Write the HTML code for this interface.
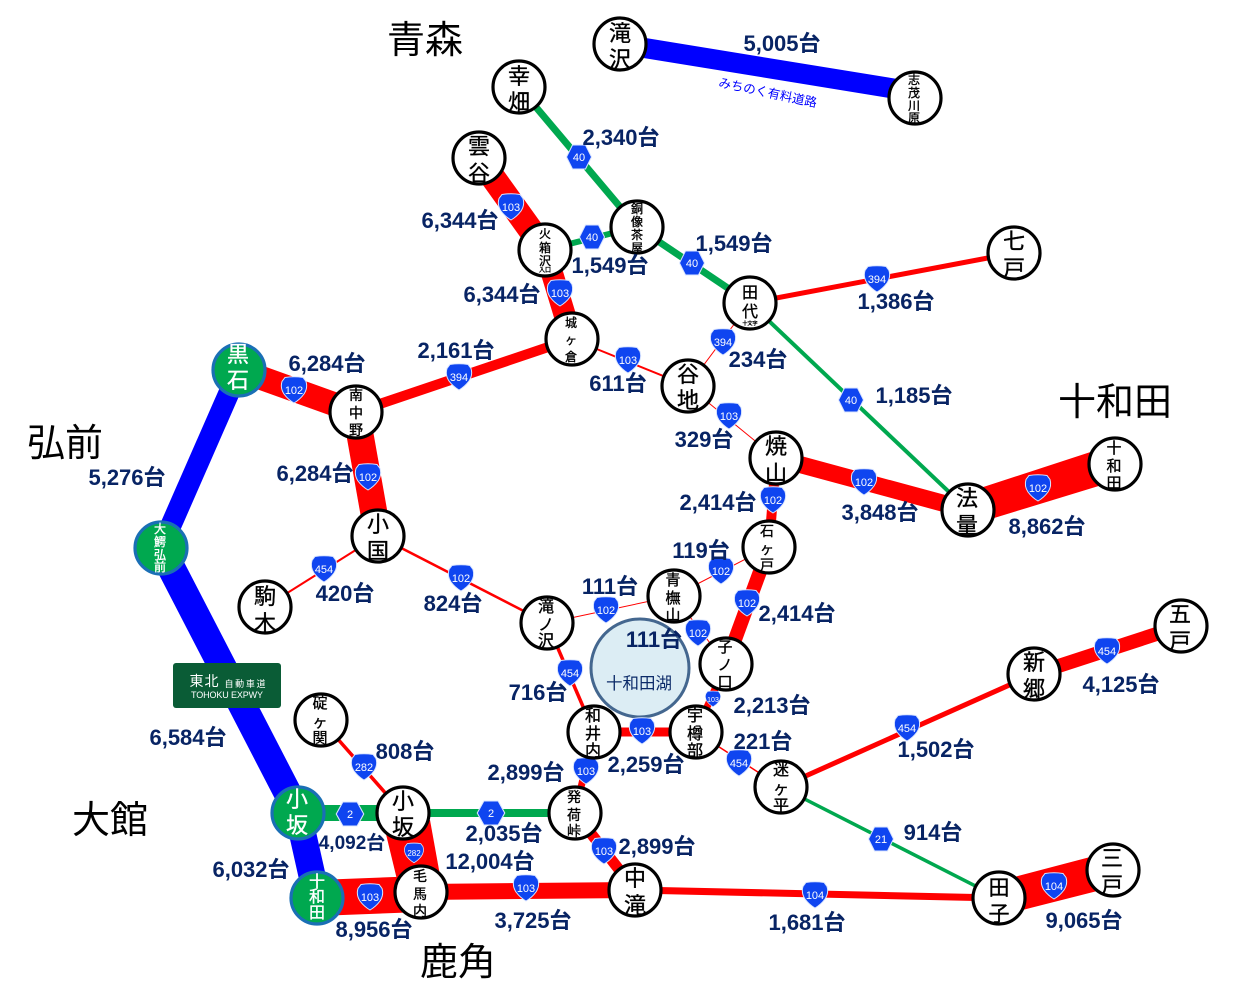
<!DOCTYPE html>
<html><head><meta charset="utf-8"><style>
html,body{margin:0;padding:0;background:#fff}
svg{display:block}
text{font-family:"Liberation Sans","Noto Sans CJK JP",sans-serif;text-anchor:middle}
.l{font-size:22px;font-weight:bold;fill:#082464}
.b{font-size:38px;fill:#000}
.n{fill:#fff;stroke:#000;stroke-width:3.2}
.g{fill:#00a84f;stroke:#1a6fb5;stroke-width:3.2}
.t2{font-size:22px;fill:#000}
.t3{font-size:16px;fill:#000}
.t4{font-size:12px;fill:#000}
.s{font-size:11px;fill:#fff;font-weight:500}
.r{stroke:#f00;fill:none}
.e{stroke:#00a84f;fill:none}
.u{stroke:#00f;fill:none}
.nodes text{stroke:#000;stroke-width:.35}
.nodes text[fill="#fff"]{stroke:#fff}
</style></head><body>
<svg width="1250" height="990" viewBox="0 0 1250 990" xmlns="http://www.w3.org/2000/svg">
<defs>
<path id="sh" d="M-9-12.5Q0-14 9-12.5L12-8.5Q14-2 10 4Q6 9.5 0 13Q-6 9.5-10 4Q-14-2-12-8.5Z" fill="#0f45f0" stroke="#dbe6ff" stroke-width="1"/>
<path id="hx" d="M-6.5-12H6.5L12.5 0L6.5 12H-6.5L-12.5 0Z" fill="#0f45f0" stroke="#dbe6ff" stroke-width="1"/>
</defs>
<!-- blue -->
<line class="u" x1="620" y1="44" x2="915" y2="92" stroke-width="20"/>
<line class="u" x1="239" y1="370" x2="161" y2="548" stroke-width="21"/>
<line class="u" x1="161" y1="548" x2="298" y2="813" stroke-width="28"/>
<line class="u" x1="298" y1="813" x2="317" y2="898" stroke-width="27"/>
<!-- red thick -->
<line class="r" x1="479" y1="158" x2="545" y2="250" stroke-width="25"/>
<line class="r" x1="545" y1="250" x2="572" y2="339" stroke-width="22"/>
<line class="r" x1="239" y1="370" x2="356" y2="412" stroke-width="24"/>
<line class="r" x1="356" y1="412" x2="378" y2="536" stroke-width="27"/>
<line class="r" x1="356" y1="412" x2="572" y2="339" stroke-width="10"/>
<line class="r" x1="572" y1="339" x2="688" y2="386" stroke-width="2"/>
<line class="r" x1="688" y1="386" x2="750" y2="303" stroke-width="1"/>
<line class="r" x1="688" y1="386" x2="776" y2="458" stroke-width="1"/>
<line class="r" x1="776" y1="458" x2="968" y2="510" stroke-width="17"/>
<polygon points="968,492 1115,444 1115,481 968,526" fill="#f00"/>
<line class="r" x1="776" y1="458" x2="769" y2="547" stroke-width="10"/>
<line class="r" x1="769" y1="547" x2="726" y2="664" stroke-width="14"/>
<line class="r" x1="769" y1="547" x2="674" y2="596" stroke-width="1"/>
<line class="r" x1="674" y1="596" x2="547" y2="623" stroke-width="1"/>
<line class="r" x1="674" y1="596" x2="726" y2="664" stroke-width="1"/>
<line class="r" x1="378" y1="536" x2="265" y2="607" stroke-width="2"/>
<line class="r" x1="378" y1="536" x2="547" y2="623" stroke-width="2.5"/>
<line class="r" x1="547" y1="623" x2="594" y2="732" stroke-width="3.5"/>
<line class="r" x1="594" y1="732" x2="696" y2="732" stroke-width="9"/>
<line class="r" x1="726" y1="664" x2="696" y2="732" stroke-width="7"/>
<line class="r" x1="696" y1="732" x2="781" y2="787" stroke-width="1.5"/>
<line class="r" x1="781" y1="787" x2="1034" y2="674" stroke-width="5"/>
<line class="r" x1="1034" y1="674" x2="1181" y2="626" stroke-width="14"/>
<line class="r" x1="750" y1="303" x2="1014" y2="253" stroke-width="5"/>
<line class="r" x1="321" y1="720" x2="403" y2="813" stroke-width="3.5"/>
<polygon points="385,830 430,820 443,892 400,892" fill="#f00"/>
<polygon points="317,880 421,876 421,912 317,916" fill="#f00"/>
<line class="r" x1="421" y1="892" x2="635" y2="890" stroke-width="16"/>
<line class="r" x1="635" y1="890" x2="999" y2="898" stroke-width="7"/>
<polygon points="999,881 1113,851 1113,887 999,916" fill="#f00"/>
<line class="r" x1="594" y1="732" x2="575" y2="813" stroke-width="7"/>
<line class="r" x1="575" y1="813" x2="635" y2="890" stroke-width="11"/>
<!-- green -->
<line class="e" x1="519" y1="87" x2="637" y2="227" stroke-width="7"/>
<line class="e" x1="637" y1="227" x2="750" y2="303" stroke-width="7"/>
<line class="e" x1="750" y1="303" x2="968" y2="510" stroke-width="4"/>
<line class="e" x1="545" y1="250" x2="637" y2="227" stroke-width="6"/>
<line class="e" x1="298" y1="813" x2="403" y2="813" stroke-width="16"/>
<line class="e" x1="403" y1="813" x2="575" y2="813" stroke-width="8"/>
<line class="e" x1="781" y1="787" x2="999" y2="898" stroke-width="3.5"/>
<!-- lake -->
<circle cx="640" cy="668" r="49" fill="#dcedf4" stroke="#44678f" stroke-width="3"/>
<text x="639" y="689" font-size="16.5" fill="#0b2a68">十和田湖</text>
<!-- shields -->
<g>
<use href="#hx" x="579" y="157"/><text class="s" x="579" y="161">40</text>
<use href="#sh" x="511" y="207"/><text class="s" x="511" y="211">103</text>
<use href="#hx" x="592" y="237"/><text class="s" x="592" y="241">40</text>
<use href="#hx" x="692" y="263"/><text class="s" x="692" y="267">40</text>
<use href="#sh" x="877" y="279"/><text class="s" x="877" y="283">394</text>
<use href="#sh" x="560" y="293"/><text class="s" x="560" y="297">103</text>
<use href="#sh" x="723" y="342"/><text class="s" x="723" y="346">394</text>
<use href="#sh" x="628" y="360"/><text class="s" x="628" y="364">103</text>
<use href="#sh" x="459" y="377"/><text class="s" x="459" y="381">394</text>
<use href="#sh" x="294" y="390"/><text class="s" x="294" y="394">102</text>
<use href="#hx" x="851" y="400"/><text class="s" x="851" y="404">40</text>
<use href="#sh" x="729" y="416"/><text class="s" x="729" y="420">103</text>
<use href="#sh" x="368" y="477"/><text class="s" x="368" y="481">102</text>
<use href="#sh" x="864" y="482"/><text class="s" x="864" y="486">102</text>
<use href="#sh" x="1038" y="488"/><text class="s" x="1038" y="492">102</text>
<use href="#sh" x="773" y="500"/><text class="s" x="773" y="504">102</text>
<use href="#sh" x="324" y="569"/><text class="s" x="324" y="573">454</text>
<use href="#sh" x="461" y="578"/><text class="s" x="461" y="582">102</text>
<use href="#sh" x="721" y="571"/><text class="s" x="721" y="575">102</text>
<use href="#sh" x="747" y="603"/><text class="s" x="747" y="607">102</text>
<use href="#sh" x="606" y="610"/><text class="s" x="606" y="614">102</text>
<use href="#sh" x="698" y="633"/><text class="s" x="698" y="637">102</text>
<use href="#sh" x="570" y="673"/><text class="s" x="570" y="677">454</text>
<use href="#sh" x="1107" y="651"/><text class="s" x="1107" y="655">454</text>
<use href="#sh" transform="translate(713 699) scale(.6)"/><text x="713" y="702" font-size="7" fill="#fff">103</text>
<use href="#sh" x="642" y="731"/><text class="s" x="642" y="735">103</text>
<use href="#sh" x="907" y="728"/><text class="s" x="907" y="732">454</text>
<use href="#sh" x="739" y="763"/><text class="s" x="739" y="767">454</text>
<use href="#sh" x="586" y="771"/><text class="s" x="586" y="775">103</text>
<use href="#sh" x="364" y="767"/><text class="s" x="364" y="771">282</text>
<use href="#hx" transform="translate(350 814) scale(1.1 1)"/><text class="s" x="350" y="818">2</text>
<use href="#hx" transform="translate(491 813) scale(1.1 1)"/><text class="s" x="491" y="817">2</text>
<use href="#hx" x="881" y="839"/><text class="s" x="881" y="843">21</text>
<use href="#sh" transform="translate(414 853) scale(.75)"/><text x="414" y="856" font-size="8" fill="#fff">282</text>
<use href="#sh" x="604" y="851"/><text class="s" x="604" y="855">103</text>
<use href="#sh" x="370" y="897"/><text class="s" x="370" y="901">103</text>
<use href="#sh" x="526" y="888"/><text class="s" x="526" y="892">103</text>
<use href="#sh" x="815" y="895"/><text class="s" x="815" y="899">104</text>
<use href="#sh" x="1054" y="886"/><text class="s" x="1054" y="890">104</text>
</g>
<!-- nodes -->
<g class="nodes">
<circle class="n" cx="620" cy="44" r="26"/><text class="t2" x="620" y="41">滝</text><text class="t2" x="620" y="67">沢</text>
<circle class="n" cx="915" cy="98" r="26"/><text class="t4" x="914" y="84">志</text><text class="t4" x="914" y="97">茂</text><text class="t4" x="914" y="110">川</text><text class="t4" x="914" y="122">原</text>
<circle class="n" cx="519" cy="87" r="26"/><text class="t2" x="519" y="84">幸</text><text class="t2" x="519" y="110">畑</text>
<circle class="n" cx="479" cy="158" r="26"/><text class="t2" x="479" y="154">雲</text><text class="t2" x="479" y="181">谷</text>
<circle class="n" cx="545" cy="250" r="26"/><text class="t4" x="545" y="238">火</text><text class="t4" x="545" y="252">箱</text><text class="t4" x="545" y="265">沢</text><text x="545" y="272" font-size="6">入口</text>
<circle class="n" cx="637" cy="227" r="26"/><text class="t4" x="637" y="213">銅</text><text class="t4" x="637" y="226">像</text><text class="t4" x="637" y="239">茶</text><text class="t4" x="637" y="252">屋</text>
<circle class="n" cx="750" cy="303" r="26"/><text x="750" y="298" font-size="16">田</text><text x="750" y="317" font-size="16">代</text><text x="750" y="325" font-size="5">十文字</text>
<circle class="n" cx="1014" cy="253" r="26"/><text class="t2" x="1014" y="249">七</text><text class="t2" x="1014" y="276">戸</text>
<circle class="n" cx="572" cy="339" r="26"/><text class="t4" x="571" y="327">城</text><text class="t4" x="571" y="344">ヶ</text><text class="t4" x="571" y="361">倉</text>
<circle class="n" cx="688" cy="386" r="26"/><text class="t2" x="688" y="382">谷</text><text class="t2" x="688" y="408">地</text>
<circle class="g" cx="239" cy="370" r="26"/><text x="238" y="362" font-size="22" fill="#fff">黒</text><text x="238" y="388" font-size="22" fill="#fff">石</text>
<circle class="n" cx="356" cy="412" r="26"/><text x="356" y="400" font-size="14">南</text><text x="356" y="418" font-size="14">中</text><text x="356" y="435" font-size="14">野</text>
<circle class="n" cx="378" cy="536" r="26"/><text class="t2" x="378" y="532">小</text><text class="t2" x="378" y="559">国</text>
<circle class="n" cx="265" cy="607" r="26"/><text class="t2" x="265" y="604">駒</text><text class="t2" x="265" y="631">木</text>
<circle class="n" cx="776" cy="458" r="26"/><text class="t2" x="776" y="454">焼</text><text class="t2" x="776" y="481">山</text>
<circle class="n" cx="968" cy="510" r="26"/><text class="t2" x="967" y="506">法</text><text class="t2" x="967" y="533">量</text>
<circle class="n" cx="1115" cy="464" r="26"/><text x="1114" y="453" font-size="15">十</text><text x="1114" y="471" font-size="15">和</text><text x="1114" y="488" font-size="15">田</text>
<circle class="n" cx="769" cy="547" r="26"/><text x="767" y="536" font-size="14">石</text><text x="767" y="554" font-size="14">ヶ</text><text x="767" y="570" font-size="14">戸</text>
<circle class="n" cx="674" cy="596" r="26"/><text x="673" y="585" font-size="15">青</text><text x="673" y="603" font-size="15">橅</text><text x="673" y="620" font-size="15">山</text>
<circle class="n" cx="547" cy="623" r="26"/><text x="546" y="612" font-size="16">滝</text><text x="546" y="630" font-size="16">ノ</text><text x="546" y="646" font-size="16">沢</text>
<circle class="n" cx="726" cy="664" r="26"/><text x="725" y="652" font-size="15">子</text><text x="725" y="670" font-size="15">ノ</text><text x="725" y="687" font-size="15">口</text>
<circle class="n" cx="594" cy="732" r="26"/><text class="t3" x="593" y="721">和</text><text class="t3" x="593" y="739">井</text><text class="t3" x="593" y="756">内</text>
<circle class="n" cx="696" cy="732" r="26"/><text class="t3" x="695" y="721">宇</text><text class="t3" x="695" y="739">樽</text><text class="t3" x="695" y="756">部</text>
<circle class="n" cx="781" cy="787" r="26"/><text class="t3" x="781" y="775">迷</text><text class="t3" x="781" y="794">ヶ</text><text class="t3" x="781" y="811">平</text>
<circle class="n" cx="1034" cy="674" r="26"/><text class="t2" x="1034" y="670">新</text><text class="t2" x="1034" y="697">郷</text>
<circle class="n" cx="1181" cy="626" r="26"/><text class="t2" x="1180" y="622">五</text><text class="t2" x="1180" y="649">戸</text>
<circle class="n" cx="321" cy="720" r="26"/><text x="320" y="708" font-size="15">碇</text><text x="320" y="727" font-size="15">ヶ</text><text x="320" y="743" font-size="15">関</text>
<circle class="g" cx="298" cy="813" r="26"/><text x="297" y="807" font-size="22" fill="#fff">小</text><text x="297" y="833" font-size="22" fill="#fff">坂</text>
<circle class="n" cx="403" cy="813" r="26"/><text class="t2" x="403" y="809">小</text><text class="t2" x="403" y="835">坂</text>
<circle class="n" cx="575" cy="813" r="26"/><text x="574" y="802" font-size="14">発</text><text x="574" y="820" font-size="14">荷</text><text x="574" y="836" font-size="14">峠</text>
<circle class="n" cx="421" cy="892" r="26"/><text x="420" y="881" font-size="14">毛</text><text x="420" y="899" font-size="14">馬</text><text x="420" y="916" font-size="14">内</text>
<circle class="g" cx="317" cy="898" r="26"/><text x="317" y="887" font-size="16" fill="#fff">十</text><text x="317" y="902" font-size="16" fill="#fff">和</text><text x="317" y="918" font-size="16" fill="#fff">田</text>
<circle class="n" cx="635" cy="890" r="26"/><text class="t2" x="635" y="886">中</text><text class="t2" x="635" y="913">滝</text>
<circle class="n" cx="999" cy="898" r="26"/><text x="999" y="895" font-size="21">田</text><text x="999" y="921" font-size="21">子</text>
<circle class="n" cx="1113" cy="870" r="26"/><text class="t2" x="1112" y="866">三</text><text class="t2" x="1112" y="893">戸</text>
<circle class="g" cx="161" cy="548" r="26"/><text x="160" y="533" font-size="12" fill="#fff">大</text><text x="160" y="546" font-size="12" fill="#fff">鰐</text><text x="160" y="559" font-size="12" fill="#fff">弘</text><text x="160" y="571" font-size="12" fill="#fff">前</text>
</g>
<!-- sign -->
<rect x="173" y="663" width="108" height="45" rx="3" fill="#0a5c36"/>
<text x="204" y="686" font-size="14" fill="#fff" textLength="29">東北</text>
<text x="245" y="687" font-size="9" fill="#fff" textLength="41">自動車道</text>
<text x="227" y="698" font-size="9" fill="#fff" textLength="72">TOHOKU EXPWY</text>
<text x="768" y="97" font-size="12.5" fill="#00f" transform="rotate(12 768 92)">みちのく有料道路</text>
<!-- big region -->
<text class="b" x="425" y="53">青森</text>
<text class="b" x="65" y="456">弘前</text>
<text class="b" x="1115" y="415">十和田</text>
<text class="b" x="110" y="833">大館</text>
<text class="b" x="458" y="975">鹿角</text>
<!-- labels -->
<text class="l" x="782" y="51">5,005台</text>
<text class="l" x="621" y="145">2,340台</text>
<text class="l" x="460" y="228">6,344台</text>
<text class="l" x="610" y="273">1,549台</text>
<text class="l" x="734" y="251">1,549台</text>
<text class="l" x="502" y="302">6,344台</text>
<text class="l" x="896" y="309">1,386台</text>
<text class="l" x="456" y="358">2,161台</text>
<text class="l" x="327" y="371">6,284台</text>
<text class="l" x="618" y="391">611台</text>
<text class="l" x="758" y="367">234台</text>
<text class="l" x="914" y="403">1,185台</text>
<text class="l" x="704" y="447">329台</text>
<text class="l" x="127" y="485">5,276台</text>
<text class="l" x="315" y="481">6,284台</text>
<text class="l" x="718" y="510">2,414台</text>
<text class="l" x="880" y="520">3,848台</text>
<text class="l" x="1047" y="534">8,862台</text>
<text class="l" x="701" y="558">119台</text>
<text class="l" x="345" y="601">420台</text>
<text class="l" x="610" y="594">111台</text>
<text class="l" x="453" y="611">824台</text>
<text class="l" x="797" y="621">2,414台</text>
<text class="l" x="654" y="647">111台</text>
<text class="l" x="1121" y="692">4,125台</text>
<text class="l" x="538" y="700">716台</text>
<text class="l" x="772" y="713">2,213台</text>
<text class="l" x="188" y="745">6,584台</text>
<text class="l" x="763" y="749">221台</text>
<text class="l" x="936" y="757">1,502台</text>
<text class="l" x="405" y="759">808台</text>
<text class="l" x="646" y="772">2,259台</text>
<text class="l" x="526" y="780">2,899台</text>
<text class="l" x="352" y="849" style="font-size:19px">4,092台</text>
<text class="l" x="504" y="841">2,035台</text>
<text class="l" x="933" y="840">914台</text>
<text class="l" x="657" y="854">2,899台</text>
<text class="l" x="490" y="869">12,004台</text>
<text class="l" x="251" y="877">6,032台</text>
<text class="l" x="533" y="928">3,725台</text>
<text class="l" x="807" y="930">1,681台</text>
<text class="l" x="1084" y="928">9,065台</text>
<text class="l" x="374" y="937">8,956台</text>
</svg>
</body></html>
